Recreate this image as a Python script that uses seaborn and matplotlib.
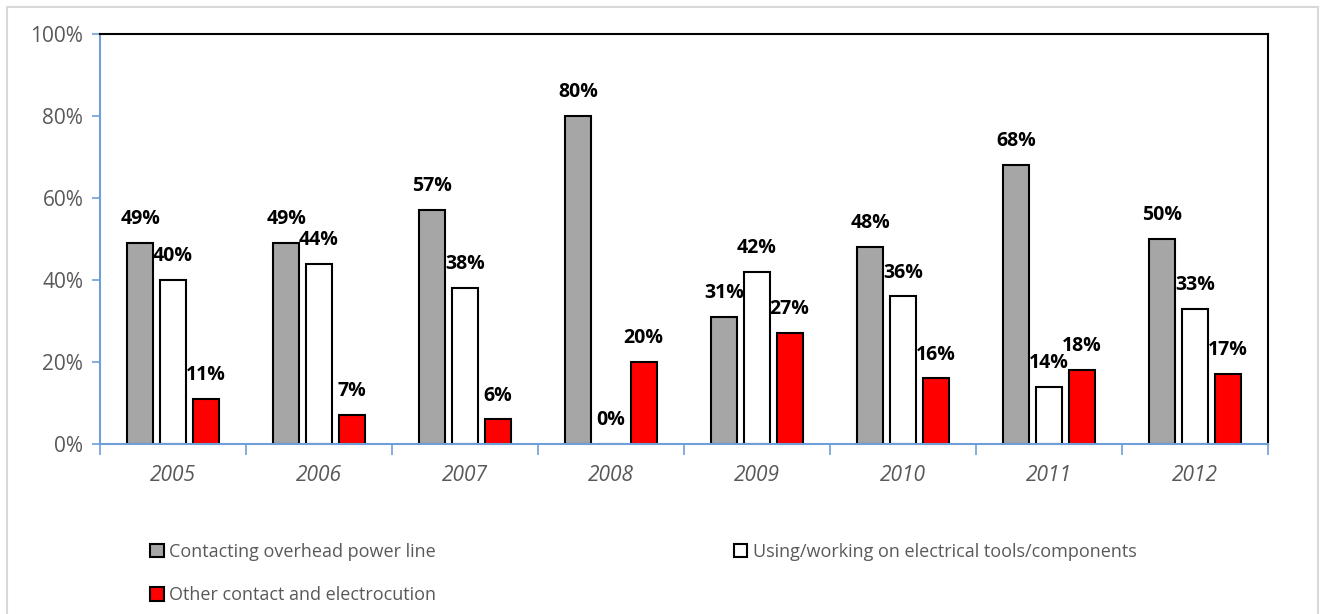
import matplotlib
matplotlib.use("Agg")
import matplotlib.pyplot as plt
from matplotlib.patches import Patch, Rectangle
from matplotlib.ticker import FixedLocator, PercentFormatter
import seaborn as sns
import pandas as pd

years = ["2005", "2006", "2007", "2008", "2009", "2010", "2011", "2012"]
series = [
    "Contacting overhead power line",
    "Using/working on electrical tools/components",
    "Other contact and electrocution",
]
overhead_line = [49, 49, 57, 80, 31, 48, 68, 50]
electrical_tools = [40, 44, 38, 0, 42, 36, 14, 33]
other_contact = [11, 7, 6, 20, 27, 16, 18, 17]
colors = ["#a6a6a6", "#ffffff", "#ff0000"]

df = pd.DataFrame({
    "year": years * 3,
    "cause": [series[0]] * 8 + [series[1]] * 8 + [series[2]] * 8,
    "share": overhead_line + electrical_tools + other_contact,
})

sns.set_theme(style="white")
plt.rcParams["font.family"] = ["Open Sans", "DejaVu Sans"]

W, H = 1325, 614
fig = plt.figure(figsize=(W / 100, H / 100), dpi=100)
ax = fig.add_axes([100 / W, (H - 444) / H, 1168 / W, 410 / H])

sns.barplot(data=df, x="year", y="share", hue="cause", order=years,
            hue_order=series, palette=colors, width=0.67, gap=0.2,
            edgecolor="black", linewidth=1.5, saturation=1, ax=ax,
            legend=False)

for cont in ax.containers:
    ax.bar_label(cont, labels=[f"{v:.0f}%" for v in cont.datavalues],
                 padding=10, fontsize=14, fontweight="bold", color="black")

ax.set_xlim(-0.5, 7.5)
ax.set_ylim(0, 100)
ax.set_xlabel("")
ax.set_ylabel("")
ax.yaxis.set_major_locator(FixedLocator([0, 20, 40, 60, 80, 100]))
ax.yaxis.set_major_formatter(PercentFormatter(decimals=0))
ax.tick_params(axis="y", which="major", length=6, width=1.2, color="#6f9fd8",
               labelsize=15, labelcolor="#595959", pad=6, left=True)
ax.tick_params(axis="x", which="major", length=0, labelsize=15,
               labelcolor="#595959", pad=15)
for lab in ax.get_xticklabels():
    lab.set_fontstyle("italic")
ax.xaxis.set_minor_locator(FixedLocator([i - 0.5 for i in range(9)]))
ax.tick_params(axis="x", which="minor", length=8, width=1.2,
               color="#6f9fd8", bottom=True)

for side in ("top", "right"):
    ax.spines[side].set_color("black")
    ax.spines[side].set_linewidth(1.5)
    ax.spines[side].set_visible(True)
for side in ("left", "bottom"):
    ax.spines[side].set_color("#6f9fd8")
    ax.spines[side].set_linewidth(1.5)
    ax.spines[side].set_visible(True)
ax.grid(False)

# chart area frame
fig.patches.append(Rectangle((7 / W, -0.01), 1311 / W, (H - 7) / H + 0.01,
                             transform=fig.transFigure, fill=False,
                             edgecolor="#d9d9d9", linewidth=1.5))

handles = [Patch(facecolor=c, edgecolor="black", linewidth=1.5) for c in colors]
order = [0, 2, 1]
leg = fig.legend([handles[i] for i in order], [series[i] for i in order],
                 ncol=2, loc="upper left", bbox_to_anchor=(150 / W, 1 - 543 / H),
                 frameon=False, fontsize=13, handlelength=0.75, handleheight=0.75,
                 handletextpad=0.3, columnspacing=16.5, labelspacing=1.4,
                 borderaxespad=0, borderpad=0)
for t in leg.get_texts():
    t.set_color("#595959")

fig.savefig("out.png", dpi=100)
